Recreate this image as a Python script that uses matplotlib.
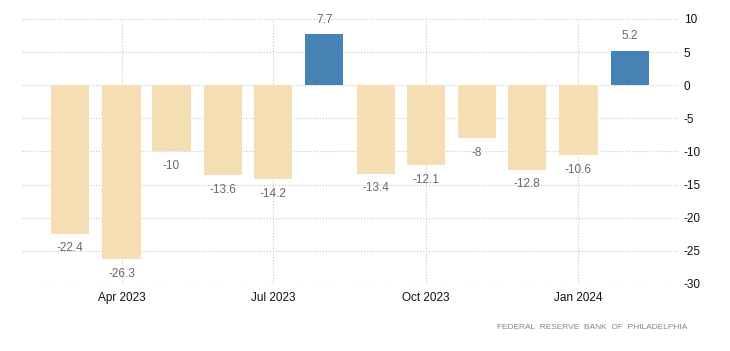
import pandas as pd
import numpy as np
import matplotlib
matplotlib.use('Agg')
import matplotlib.pyplot as plt
import matplotlib.dates as mdates

# monthly values, Mar 2023 - Feb 2024
months = pd.date_range('2023-03-01', '2024-02-01', freq='MS')
values = [-22.4, -26.3, -10, -13.6, -14.2, 7.7, -13.4, -12.1, -8, -12.8, -10.6, 5.2]
value_labels = ['-22.4', '-26.3', '-10', '-13.6', '-14.2', '7.7', '-13.4', '-12.1', '-8', '-12.8', '-10.6', '5.2']
xtick_dates = pd.to_datetime(['2023-04-01', '2023-07-01', '2023-10-01', '2024-01-01'])
xtick_labels = ['Apr 2023', 'Jul 2023', 'Oct 2023', 'Jan 2024']
yticks = [10, 5, 0, -5, -10, -15, -20, -25, -30]

plt.rcParams['font.family'] = ['Liberation Sans', 'DejaVu Sans']
plt.rcParams['axes.unicode_minus'] = False

fig = plt.figure(figsize=(7.3, 3.51), dpi=100)
ax = fig.add_axes([0.030, 0.191, 0.899, 0.755])

x = mdates.date2num(months)
colors = ['#4682B4' if v > 0 else '#F5DEB3' for v in values]
ax.bar(x, values, width=23, color=colors, zorder=2)

for xi, v, lab in zip(x, values, value_labels):
    if v > 0:
        ax.annotate(lab, (xi, v), xytext=(0, 6), textcoords='offset points',
                    ha='center', va='bottom', fontsize=8.5, color='#666666')
    else:
        ax.annotate(lab, (xi, v), xytext=(0, -6), textcoords='offset points',
                    ha='center', va='top', fontsize=8.5, color='#666677')

ax.set_xlim(mdates.date2num(pd.Timestamp('2023-01-31')), mdates.date2num(pd.Timestamp('2024-03-01')))
ax.set_ylim(-30, 10)
ax.set_yticks(yticks)
ax.set_xticks(mdates.date2num(xtick_dates))
ax.set_xticklabels(xtick_labels)
ax.yaxis.tick_right()
ax.tick_params(axis='both', length=0, labelsize=8.5, colors='#111111')
ax.tick_params(axis='y', pad=4)
ax.tick_params(axis='x', pad=6)

ax.grid(True, linestyle=':', color='#c8c8c8', linewidth=0.8, zorder=0)
ax.set_axisbelow(True)
for s in ax.spines.values():
    s.set_visible(False)

fig.text(0.942, 0.068, 'FEDERAL  RESERVE  BANK  OF  PHILADELPHIA', ha='right', va='center',
         fontsize=6, color='#888888')

plt.savefig('out.png', dpi=100)
